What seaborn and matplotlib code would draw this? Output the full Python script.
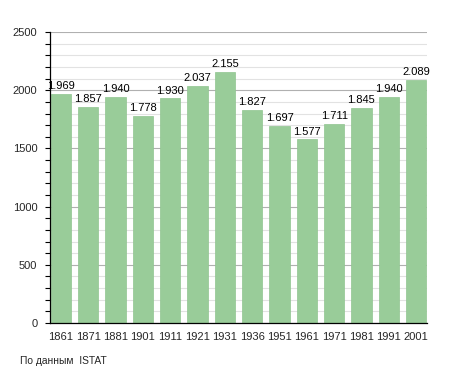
import numpy as np
import pandas as pd
import seaborn as sns
import matplotlib
matplotlib.use("Agg")
import matplotlib.pyplot as plt
from matplotlib.ticker import MultipleLocator

# Data
YEARS = ["1861", "1871", "1881", "1901", "1911", "1921", "1931",
         "1936", "1951", "1961", "1971", "1981", "1991", "2001"]
POPULATION = [1969, 1857, 1940, 1778, 1930, 2037, 2155,
              1827, 1697, 1577, 1711, 1845, 1940, 2089]
SOURCE_TEXT = "По данным  ISTAT"

sns.set_style("white")
plt.rcParams["font.family"] = ["Liberation Sans", "DejaVu Sans"]

df = pd.DataFrame({"year": YEARS, "pop": POPULATION})

fig = plt.figure(figsize=(4.55, 3.73), dpi=100)
ax = fig.add_axes([0.1099, 0.134, 0.8286, 0.780])

# Grid
ax.set_ylim(0, 2500)
ax.yaxis.set_major_locator(MultipleLocator(500))
ax.yaxis.set_minor_locator(MultipleLocator(100))
ax.grid(axis="y", which="major", color="#b0b0b0", linewidth=0.8)
ax.grid(axis="y", which="minor", color="#e2e2e2", linewidth=0.8)
ax.set_axisbelow(True)

sns.barplot(
    data=df, x="year", y="pop", ax=ax,
    color="#99cc99", saturation=1, width=0.75,
    edgecolor="#90c490", linewidth=0.5,
)

for i, v in enumerate(POPULATION):
    ax.text(i, v + 25, f"{v // 1000}.{v % 1000:03d}",
            ha="center", va="bottom", fontsize=8, color="black")

ax.set_xlim(-0.4, len(YEARS) - 0.6)
ax.set_xlabel("")
ax.set_ylabel("")

for side in ["top", "right"]:
    ax.spines[side].set_visible(False)
ax.spines["left"].set_color("black")
ax.spines["bottom"].set_color("black")
ax.spines["left"].set_linewidth(0.9)
ax.spines["bottom"].set_linewidth(0.9)

ax.tick_params(axis="y", which="both", left=True, length=3.6, width=0.8,
               color="black", labelsize=8, pad=5.5)
ax.tick_params(axis="x", bottom=False, labelsize=8, pad=3)

fig.text(0.044, 0.018, SOURCE_TEXT, fontsize=7.4, ha="left", va="bottom")

fig.savefig("out.png", dpi=100, facecolor="white")
